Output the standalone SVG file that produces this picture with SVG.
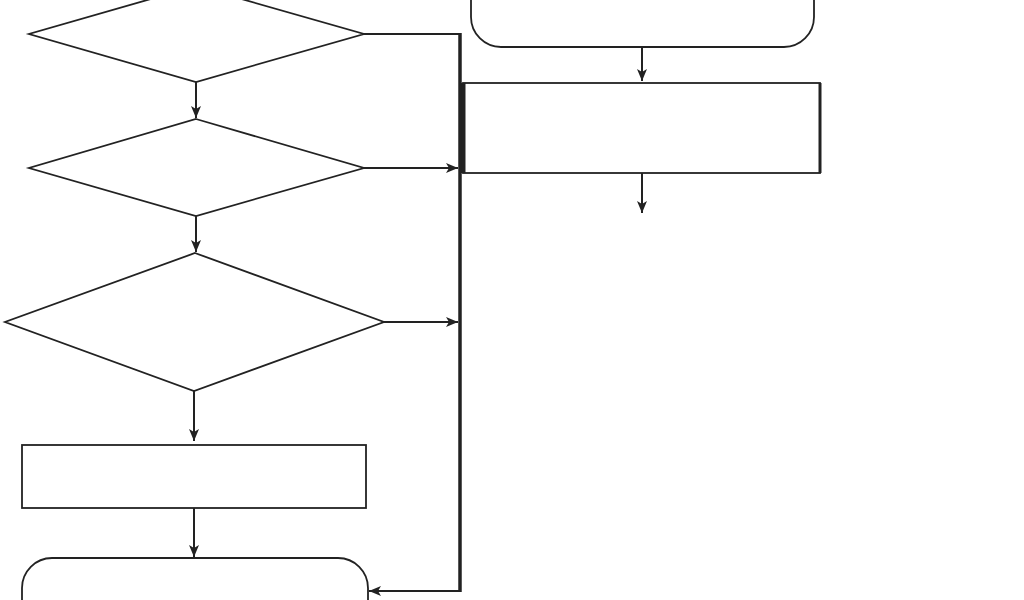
<svg xmlns="http://www.w3.org/2000/svg" width="1024" height="600" viewBox="0 0 1024 600">
<style>
.s{fill:#fff;stroke:#222;stroke-width:1.8}
.c{fill:none;stroke:#222;stroke-width:2}
.b{fill:none;stroke:#222;stroke-width:3.5}
</style>
<defs>
<marker id="a" viewBox="0 0 12 10" refX="12" refY="5" markerWidth="12" markerHeight="10" markerUnits="userSpaceOnUse" orient="auto">
<path d="M0,0 L12,5 L0,10 L3,5 Z" fill="#222"/>
</marker>
</defs>
<rect width="1024" height="600" fill="#fff"/>
<g id="d1"><polygon class="s" points="196,-14 364,34 196,82 29,34"/></g>
<g id="d2"><polygon class="s" points="196,119 364,168 196,216 29,168"/></g>
<g id="d3"><polygon class="s" points="195,253 384,322 194,391 5,322"/></g>
<g id="p1"><rect class="s" x="22" y="445" width="344" height="63"/></g>
<g id="t2"><rect class="s" x="22" y="558" width="346" height="80" rx="30"/></g>
<g id="t1"><rect class="s" x="471" y="-40" width="343" height="87" rx="30"/></g>
<g id="p2"><rect class="s" x="463" y="83" width="357" height="90"/>
<line x1="463" y1="83" x2="463" y2="173" stroke="#222" stroke-width="5"/>
<line x1="820" y1="83" x2="820" y2="173" stroke="#222" stroke-width="3"/></g>
<g id="connectors">
<line class="c" x1="196" y1="82" x2="196" y2="118" marker-end="url(#a)"/>
<line class="c" x1="196" y1="216" x2="196" y2="252" marker-end="url(#a)"/>
<line class="c" x1="194" y1="391" x2="194" y2="441" marker-end="url(#a)"/>
<line class="c" x1="194" y1="508" x2="194" y2="557" marker-end="url(#a)"/>
<polyline class="c" points="364,34 460,34"/>
<line class="b" x1="460" y1="33" x2="460" y2="592"/>
<line class="c" x1="364" y1="168" x2="458" y2="168" marker-end="url(#a)"/>
<line class="c" x1="384" y1="322" x2="458" y2="322" marker-end="url(#a)"/>
<line class="c" x1="460" y1="591" x2="369" y2="591" marker-end="url(#a)"/>
<line class="c" x1="642" y1="47" x2="642" y2="81" marker-end="url(#a)"/>
<line class="c" x1="642" y1="173" x2="642" y2="213" marker-end="url(#a)"/>
</g>
</svg>
